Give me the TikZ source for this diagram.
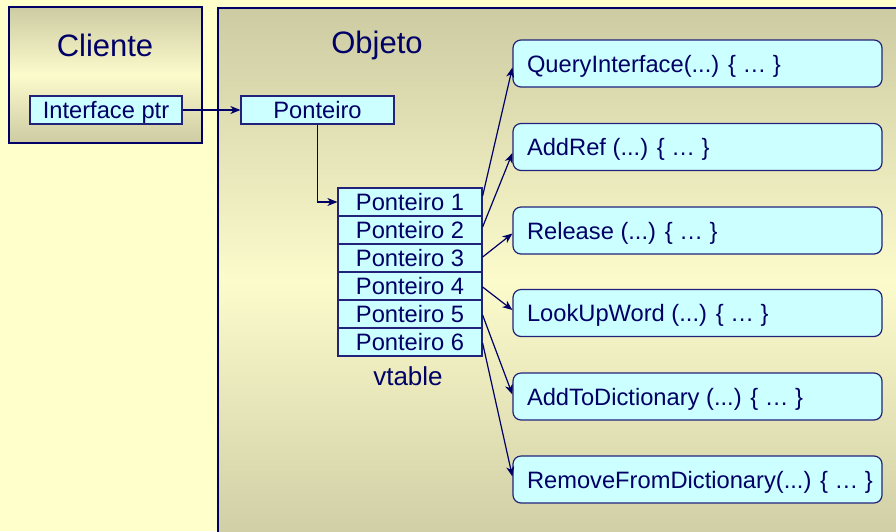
\documentclass[tikz,border=0pt]{standalone}
\usepackage{fontspec}
\setmainfont{Liberation Sans}
\usetikzlibrary{arrows.meta,calc}
\definecolor{bgyellow}{HTML}{FFFFCC}
\definecolor{darktan}{HTML}{CDCBA2}
\definecolor{lighttan}{HTML}{FCFBCC}
\definecolor{navy}{HTML}{000066}
\definecolor{boxline}{HTML}{22227A}
\definecolor{cyanfill}{HTML}{CCFFFF}
\newcommand{\lft}[1]{\makebox[341pt][l]{#1}}
\begin{document}
\begin{tikzpicture}[x=1pt,y=-1pt,
  txt/.style={text=navy,font=\fontsize{23.7}{26}\selectfont},
  ttl/.style={text=navy,font=\fontsize{31}{34}\selectfont},
  cell/.style={txt,draw=boxline,fill=cyanfill,line width=1.2pt,inner sep=0pt,minimum height=28pt,
    text height=17pt,text depth=0pt},
  func/.style={txt,draw=boxline,fill=cyanfill,line width=1.2pt,rounded corners=8pt,
    minimum height=47pt,minimum width=369pt,inner xsep=14pt,inner ysep=0pt,
    text height=17pt,text depth=0pt},
  arr/.style={draw=navy,line width=1.2pt,-{Stealth[length=10pt,width=8pt,inset=3pt]}}
]
\useasboundingbox (0,0) rectangle (896,531);
\clip (0,0) rectangle (896,531);
\fill[bgyellow] (0,0) rectangle (896,531);
% outer panels
\shade[top color=darktan,bottom color=darktan,middle color=lighttan] (9,7) rectangle (202,143);
\draw[navy,line width=2pt] (9,7) rectangle (202,143);
\shade[top color=darktan,bottom color=darktan,middle color=lighttan] (218,8) rectangle (910,555);
\draw[navy,line width=2pt] (218,8) rectangle (910,555);
\node[ttl] (cliente) at (105,45) {Cliente};
\node[ttl] (objeto) at (377,45) {Objeto};
% pointer boxes
\node[cell,minimum width=152pt] (iptr) at (106,110) {Interface ptr};
\node[cell,minimum width=153pt] (pont) at (317.5,110) {Ponteiro};
% vtable
\foreach \i in {1,...,6}{
  \node[cell,minimum width=144pt] (r\i) at (410,{202+28*(\i-1)}) {Ponteiro \i};
}
\node[txt,font=\fontsize{26}{28}\selectfont] (vt) at (408,376) {vtable};
% functions
\node[func] (f1) at (697.5,63.5) {\lft{QueryInterface(...) \{ … \}}};
\node[func] (f2) at (697.5,147) {\lft{AddRef (...) \{ … \}}};
\node[func] (f3) at (697.5,230.5) {\lft{Release (...) \{ … \}}};
\node[func] (f4) at (697.5,313) {\lft{LookUpWord (...) \{ … \}}};
\node[func] (f5) at (697.5,396.5) {\lft{AddToDictionary (...) \{ … \}}};
\node[func] (f6) at (697.5,479.5) {\lft{RemoveFromDictionary(...) \{ … \}}};
% connectors
\draw[arr] (iptr.east) -- (pont.west);
\draw[arr] (pont.south) |- (r1.west);
\draw[arr] ($(r1.east)+(0,-6)$) -- ($(f1.west)+(0,4)$);
\draw[arr] ($(r2.east)+(0,-3)$) -- ($(f2.west)+(0,6)$);
\draw[arr] ($(r3.east)+(0,-1)$) -- ($(f3.west)+(0,3)$);
\draw[arr] ($(r4.east)+(0,1)$) -- ($(f4.west)+(0,-3)$);
\draw[arr] ($(r5.east)+(0,1)$) -- ($(f5.west)+(0,-2)$);
\draw[arr] ($(r6.east)+(0,1)$) -- ($(f6.west)+(0,-3)$);
\end{tikzpicture}
\end{document}
